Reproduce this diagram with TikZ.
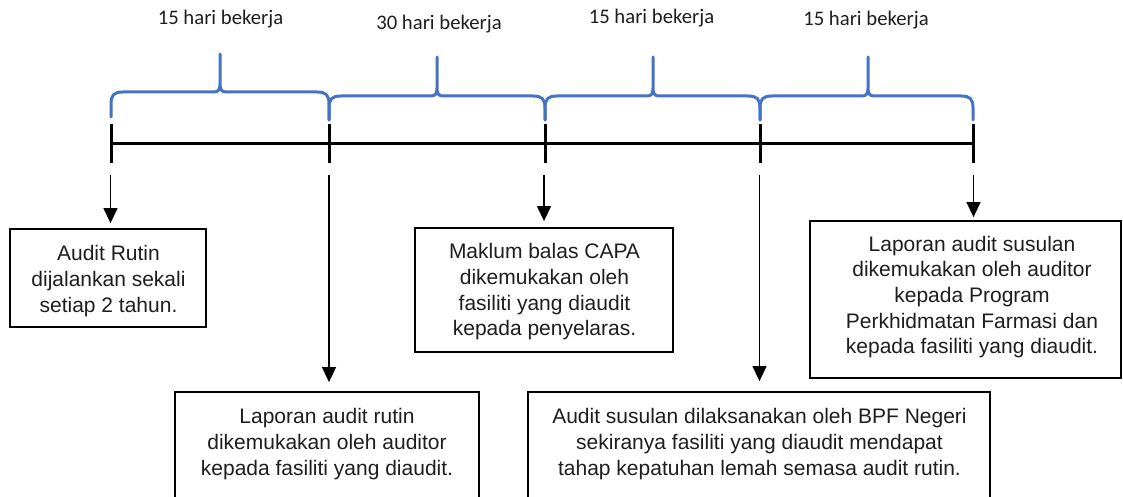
\documentclass[tikz,border=0pt]{standalone}
\usepackage{fontspec}
\setmainfont{Liberation Sans}
\newfontfamily\calfont{Carlito}
\usetikzlibrary{arrows.meta}
\definecolor{braceblue}{RGB}{68,114,196}
\definecolor{txtgray}{RGB}{30,30,30}
\newcommand{\tlbrace}[7]{% xl xr xm yh yt ybl ybr
  \draw[brc] (#1,#6) -- (#1,{#4+12}) .. controls (#1,{#4+3}) and ({#1+3},#4) .. ({#1+12},#4)
    -- ({#3-6},#4) .. controls ({#3-2},#4) and (#3,{#4-2}) .. (#3,{#4-8}) -- (#3,#5)
    -- (#3,{#4-8}) .. controls (#3,{#4-2}) and ({#3+2},#4) .. ({#3+6},#4)
    -- ({#2-12},#4) .. controls ({#2-3},#4) and (#2,{#4+3}) .. (#2,{#4+12}) -- (#2,#7);}
\begin{document}
\begin{tikzpicture}[x=1pt,y=-1pt,
  boxst/.style={draw=black, line width=1.8pt, inner sep=0pt},
  txt/.style={align=center, inner sep=0pt, text=txtgray, font=\fontsize{21}{25.7}\selectfont},
  lbl/.style={inner sep=0pt, text=txtgray, font=\calfont\fontsize{20.7}{24}\selectfont},
  arr/.style={line width=1.3pt, -{Triangle[length=15pt,width=14pt]}},
  brc/.style={draw=braceblue, line width=3pt, line join=round, line cap=round},
  tl/.style={line width=3pt}]
\useasboundingbox (0,0) rectangle (1123,497);
\clip (0,0) rectangle (1123,497);
\fill[white] (0,0) rectangle (1123,497);

% timeline
\coordinate (t1) at (111,144);
\coordinate (t2) at (329,144);
\coordinate (t3) at (545,144);
\coordinate (t4) at (760,144);
\coordinate (t5) at (973,144);
\draw[tl] (t1) -- (t5);
\foreach \t in {t1,t2,t3,t4,t5}
  \draw[tl] ([yshift=20pt]\t) -- ([yshift=-19pt]\t);

% braces
\tlbrace{111}{329}{220}{92}{54}{117}{120}
\tlbrace{329}{545}{437}{96}{57}{120}{120}
\tlbrace{545}{760}{653}{96}{57}{120}{120}
\tlbrace{760}{973}{868}{96}{57}{120}{120}

% brace labels
\node[lbl] (l1) at (220.5,19) {15 hari bekerja};
\node[lbl] (l2) at (439,24) {30 hari bekerja};
\node[lbl] (l3) at (651.5,18) {15 hari bekerja};
\node[lbl] (l4) at (866,20) {15 hari bekerja};

% boxes
\node[boxst, minimum width=196pt, minimum height=98pt] (b1) at (108,278) {};
\node[boxst, minimum width=304pt, minimum height=148pt] (b2) at (327,466) {};
\node[boxst, minimum width=258pt, minimum height=124pt] (b3) at (544,290) {};
\node[boxst, minimum width=462pt, minimum height=148pt] (b4) at (759,466) {};
\node[boxst, minimum width=311pt, minimum height=157pt] (b5) at (965.5,299.5) {};

% box texts
\node[txt] (x1) at (108.5,281) {Audit Rutin\\dijalankan sekali\\setiap 2 tahun.};
\node[txt] (x2) at (327,444) {Laporan audit rutin\\dikemukakan oleh auditor\\kepada fasiliti yang diaudit.};
\node[txt] (x3) at (544.5,292) {Maklum balas CAPA\\dikemukakan oleh\\fasiliti yang diaudit\\kepada penyelaras.};
\node[txt] (x4) at (759.5,444) {Audit susulan dilaksanakan oleh BPF Negeri\\sekiranya fasiliti yang diaudit mendapat\\tahap kepatuhan lemah semasa audit rutin.};
\node[txt] (x5) at (972,297) {Laporan audit susulan\\dikemukakan oleh auditor\\kepada Program\\Perkhidmatan Farmasi dan\\kepada fasiliti yang diaudit.};

% arrows
\coordinate (s1) at (110.5,175);
\coordinate (s2) at (329,175);
\coordinate (s3) at (544,175);
\coordinate (s4) at (759.5,175);
\coordinate (s5) at (973.5,175);
\draw[arr, shorten >=5pt] (s1) -- (s1 |- b1.north);
\draw[arr, shorten >=9pt] (s2) -- (s2 |- b2.north);
\draw[arr, shorten >=6pt] (s3) -- (s3 |- b3.north);
\draw[arr, shorten >=10pt] (s4) -- (s4 |- b4.north);
\draw[arr, shorten >=3pt] (s5) -- (s5 |- b5.north);
\end{tikzpicture}
\end{document}
